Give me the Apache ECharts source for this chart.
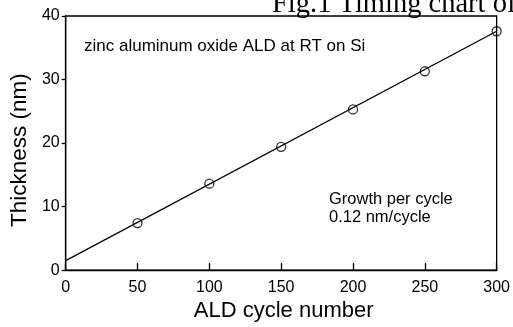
<!DOCTYPE html>
<html><head><meta charset="utf-8">
<script src="https://cdn.jsdelivr.net/npm/echarts@6/dist/echarts.min.js"></script>
<style>html,body{margin:0;padding:0;background:#fff}#c{width:513px;height:327px}</style>
</head><body><div id="c"></div>
<script>
const cycles = [50, 100, 150, 200, 250, 300];
const thickness = [7.4, 13.6, 19.4, 25.3, 31.3, 37.6];
const fitCycles = [0, 300];
const fitThickness = [1.5, 37.6];
const xTicks = [0, 50, 100, 150, 200, 250, 300];
const yTicks = [0, 10, 20, 30, 40];

const chart = echarts.init(document.getElementById('c'), null, {renderer: 'canvas'});
const sans = 'Liberation Sans';
chart.setOption({
  animation: false,
  backgroundColor: '#fff',
  grid: {left: 64, right: 14, top: 16, bottom: 51, show: true, borderColor: '#000', borderWidth: 1.3},
  graphic: [
    {type: 'text', x: 272, y: 5, style: {text: 'Fig.1 Timing chart of', font: '28.5px "Liberation Serif"', fill: '#000', verticalAlign: 'middle'}},
    {type: 'text', x: 84, y: 46, style: {text: 'zinc aluminum oxide ALD at RT on Si', font: '17px "Liberation Sans"', fill: '#000', verticalAlign: 'middle'}},
    {type: 'text', x: 329, y: 208.5, style: {text: 'Growth per cycle\n0.12 nm/cycle', font: '16.5px "Liberation Sans"', lineHeight: 18, fill: '#000', verticalAlign: 'middle'}}
  ],
  xAxis: {
    type: 'value', min: 0, max: 300, interval: 50,
    name: 'ALD cycle number', nameLocation: 'middle', nameGap: 28,
    nameTextStyle: {fontFamily: sans, fontSize: 22, color: '#000', padding: [0, 0, 0, 5]},
    axisLine: {lineStyle: {color: '#000', width: 1.3}},
    axisTick: {inside: true, length: 7, lineStyle: {color: '#000', width: 1.3}},
    axisLabel: {fontFamily: sans, fontSize: 16, color: '#000', margin: 9,
      formatter: v => xTicks.includes(v) ? String(v) : ''},
    splitLine: {show: false}
  },
  yAxis: {
    type: 'value', min: 0, max: 40, interval: 10,
    name: 'Thickness (nm)', nameLocation: 'middle', nameGap: 25,
    nameTextStyle: {fontFamily: sans, fontSize: 22.5, color: '#000', padding: [0, 14, 0, 0]},
    axisLine: {lineStyle: {color: '#000', width: 1.3}},
    axisTick: {inside: false, length: 4, lineStyle: {color: '#000', width: 1.3}},
    axisLabel: {fontFamily: sans, fontSize: 16, color: '#000', margin: 6,
      formatter: v => yTicks.includes(v) ? String(v) : ''},
    splitLine: {show: false}
  },
  series: [
    {type: 'line', data: fitCycles.map((x, i) => [x, fitThickness[i]]), symbol: 'none',
      lineStyle: {color: '#000', width: 1.3}, z: 2},
    {type: 'scatter', data: cycles.map((x, i) => [x, thickness[i]]), symbol: 'circle', symbolSize: 9,
      itemStyle: {color: 'rgba(255,255,255,0)', borderColor: '#000', borderWidth: 1.3}, z: 3}
  ]
});
</script></body></html>
